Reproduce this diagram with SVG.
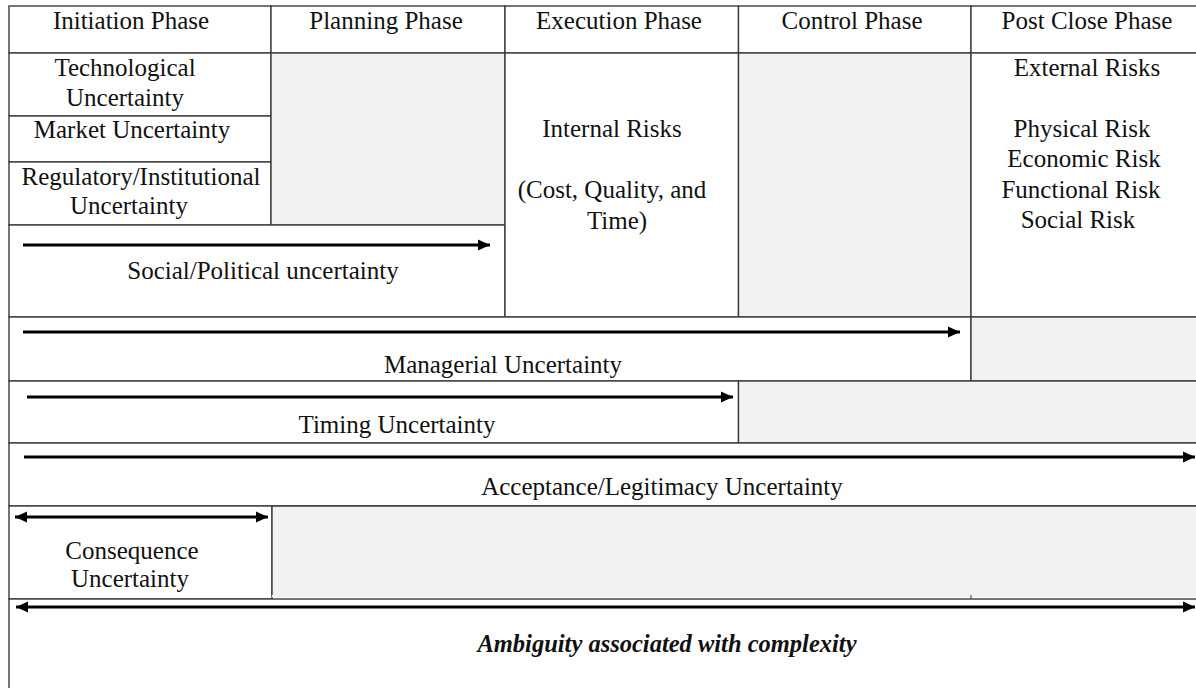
<svg xmlns="http://www.w3.org/2000/svg" width="1196" height="688" viewBox="0 0 1196 688">
<style>
  .cell { fill: #ffffff; stroke: #3c3c3c; stroke-width: 1.4; }
  .grey { fill: #f2f2f2; stroke: #3c3c3c; stroke-width: 1.4; }
  .t { font-family: "Liberation Serif", "Times New Roman", serif; font-size: 25px; fill: #111111; text-anchor: middle; }
  .bi { font-weight: bold; font-style: italic; font-size: 24.5px; }
  .arrow { stroke: #000000; stroke-width: 3; fill: none; }
</style>
<defs>
  <marker id="ah" markerUnits="userSpaceOnUse" markerWidth="13" markerHeight="12" refX="12" refY="6" orient="auto-start-reverse">
    <path d="M0,0.5 L12,6 L0,11.5 z" fill="#000000"/>
  </marker>
</defs>
<rect x="0" y="0" width="1196" height="688" fill="#ffffff"/>

<g id="hdr-initiation"><rect class="cell" x="9" y="6" width="262" height="47"/><text class="t" x="131" y="29">Initiation Phase</text></g>
<g id="hdr-planning"><rect class="cell" x="271" y="6" width="234" height="47"/><text class="t" x="386" y="29">Planning Phase</text></g>
<g id="hdr-execution"><rect class="cell" x="505" y="6" width="233.5" height="47"/><text class="t" x="619" y="29">Execution Phase</text></g>
<g id="hdr-control"><rect class="cell" x="738.5" y="6" width="232.5" height="47"/><text class="t" x="852" y="29">Control Phase</text></g>
<g id="hdr-postclose"><rect class="cell" x="971" y="6" width="228" height="47"/><text class="t" x="1087" y="29">Post Close Phase</text></g>

<g id="technological"><rect class="cell" x="9" y="53" width="262" height="63"/><text class="t" x="125" y="76">Technological</text><text class="t" x="125" y="106">Uncertainty</text></g>
<g id="market"><rect class="cell" x="9" y="116" width="262" height="46"/><text class="t" x="132" y="138">Market Uncertainty</text></g>
<g id="regulatory"><rect class="cell" x="9" y="162" width="262" height="63"/><text class="t" x="141" y="185">Regulatory/Institutional</text><text class="t" x="129" y="214">Uncertainty</text></g>
<g id="planning-empty"><rect class="grey" x="271" y="53" width="234" height="172"/></g>
<g id="social-political"><rect class="cell" x="9" y="225" width="496" height="92"/><text class="t" x="263" y="279">Social/Political uncertainty</text></g>
<g id="internal-risks"><rect class="cell" x="505" y="53" width="233.5" height="264"/><text class="t" x="612" y="137">Internal Risks</text><text class="t" x="612" y="198">(Cost, Quality, and</text><text class="t" x="617" y="229">Time)</text></g>
<g id="control-empty"><rect class="grey" x="738.5" y="53" width="232.5" height="264"/></g>
<g id="external-risks"><rect class="cell" x="971" y="53" width="228" height="264"/><text class="t" x="1087" y="76">External Risks</text><text class="t" x="1082" y="137">Physical Risk</text><text class="t" x="1084" y="167">Economic Risk</text><text class="t" x="1081" y="198">Functional Risk</text><text class="t" x="1078" y="228">Social Risk</text></g>

<g id="managerial"><rect class="cell" x="9" y="317" width="962" height="64"/><text class="t" x="503" y="373">Managerial Uncertainty</text></g>
<g id="managerial-empty"><rect class="grey" x="971" y="317" width="228" height="64"/></g>
<g id="timing"><rect class="cell" x="9" y="381" width="729.5" height="62"/><text class="t" x="397" y="433">Timing Uncertainty</text></g>
<g id="timing-empty"><rect class="grey" x="738.5" y="381" width="460.5" height="62"/></g>
<g id="acceptance"><rect class="cell" x="9" y="443" width="1190" height="63"/><text class="t" x="662" y="495">Acceptance/Legitimacy Uncertainty</text></g>
<g id="consequence"><rect class="cell" x="9" y="506" width="263" height="93"/><text class="t" x="132" y="559">Consequence</text><text class="t" x="130" y="587">Uncertainty</text></g>
<g id="consequence-empty"><rect x="272" y="506" width="927" height="91" fill="#f2f2f2"/><line x1="272" y1="506" x2="1199" y2="506" stroke="#3c3c3c" stroke-width="1.4"/><line x1="272" y1="506" x2="272" y2="595" stroke="#3c3c3c" stroke-width="1.4"/><line x1="971" y1="595" x2="971" y2="599" stroke="#3c3c3c" stroke-width="1"/></g>
<g id="ambiguity"><rect class="cell" x="9" y="599" width="1190" height="92"/><text class="t bi" x="667" y="652">Ambiguity associated with complexity</text></g>

<g id="connectors">
  <line class="arrow" x1="23" y1="245" x2="490" y2="245" marker-end="url(#ah)"/>
  <line class="arrow" x1="23" y1="332" x2="960" y2="332" marker-end="url(#ah)"/>
  <line class="arrow" x1="27" y1="397" x2="733" y2="397" marker-end="url(#ah)"/>
  <line class="arrow" x1="24" y1="457" x2="1195" y2="457" marker-end="url(#ah)"/>
  <line class="arrow" x1="15" y1="517" x2="268" y2="517" marker-start="url(#ah)" marker-end="url(#ah)"/>
  <line class="arrow" x1="16" y1="607" x2="1195" y2="607" marker-start="url(#ah)" marker-end="url(#ah)"/>
</g>
</svg>
